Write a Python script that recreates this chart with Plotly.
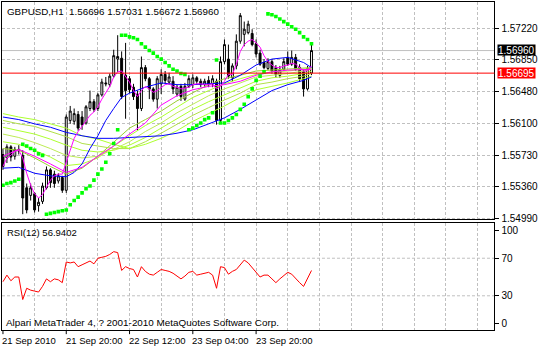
import plotly.graph_objects as go

W, H = 538, 351

# ---------------- data ----------------
bars = list(range(79))
opens = [1.5574,1.5570,1.5583,1.5572,1.5580,1.5573,1.5535,1.5526,1.5528,1.5514,
         1.5519,1.5535,1.5556,1.5551,1.5543,1.5547,1.5532,1.5614,1.5613,1.5621,
         1.5618,1.5611,1.5628,1.5636,1.5628,1.5644,1.5658,1.5656,1.5666,1.5686,
         1.5687,1.5667,1.5663,1.5653,1.5645,1.5628,1.5676,1.5663,1.5651,1.5639,
         1.5657,1.5668,1.5659,1.5660,1.5645,1.5654,1.5639,1.5654,1.5656,1.5664,
         1.5660,1.5656,1.5661,1.5657,1.5660,1.5614,1.5683,1.5686,1.5664,1.5678,
         1.5707,1.5715,1.5717,1.5716,1.5704,1.5693,1.5682,1.5675,1.5683,1.5676,
         1.5667,1.5674,1.5688,1.5680,1.5688,1.5676,1.5671,1.5651,1.56696]
highs = [1.5581,1.5586,1.5585,1.5583,1.5585,1.5579,1.5540,1.5540,1.5530,1.5523,
         1.5541,1.5560,1.5558,1.5555,1.5552,1.5549,1.5621,1.5631,1.5628,1.5625,
         1.5625,1.5632,1.5649,1.5639,1.5646,1.5663,1.5665,1.5669,1.5697,1.5714,
         1.5695,1.5705,1.5666,1.5657,1.5649,1.5689,1.5679,1.5665,1.5653,1.5666,
         1.5674,1.5672,1.5670,1.5666,1.5656,1.5657,1.5658,1.5667,1.5668,1.5666,
         1.5663,1.5663,1.5666,1.5667,1.5663,1.5689,1.5709,1.5703,1.5681,1.5715,
         1.5740,1.5730,1.5731,1.5721,1.5709,1.5697,1.5686,1.5687,1.5686,1.5679,
         1.5678,1.5687,1.5695,1.5696,1.5692,1.5680,1.5674,1.5678,1.57031]
lows = [1.5556,1.5564,1.5566,1.5568,1.5574,1.5504,1.5505,1.5520,1.5506,1.5507,
        1.5516,1.5533,1.5535,1.5535,1.5540,1.5529,1.5529,1.5610,1.5609,1.5602,
        1.5603,1.5609,1.5625,1.5624,1.5625,1.5642,1.5654,1.5653,1.5664,1.5671,
        1.5639,1.5616,1.5646,1.5638,1.5602,1.5625,1.5660,1.5639,1.5636,1.5628,
        1.5645,1.5657,1.5656,1.5645,1.5642,1.5637,1.5637,1.5652,1.5652,1.5657,
        1.5653,1.5653,1.5653,1.5653,1.5609,1.5611,1.5680,1.5663,1.5660,1.5674,
        1.5704,1.5701,1.5715,1.5701,1.5688,1.5678,1.5674,1.5673,1.5669,1.5664,
        1.5664,1.5672,1.5678,1.5678,1.5672,1.5659,1.5642,1.5649,1.56672]
closes = [1.5560,1.5583,1.5571,1.5580,1.5578,1.5523,1.5509,1.5535,1.5509,1.5518,
          1.5537,1.5556,1.5541,1.5540,1.5549,1.5532,1.5618,1.5625,1.5622,1.5605,
          1.5609,1.5630,1.5636,1.5627,1.5644,1.5659,1.5657,1.5666,1.5690,1.5689,
          1.5642,1.5649,1.5650,1.5642,1.5628,1.5676,1.5663,1.5651,1.5639,1.5663,
          1.5668,1.5661,1.5665,1.5651,1.5653,1.5642,1.5654,1.5663,1.5664,1.5660,
          1.5656,1.5660,1.5656,1.5663,1.5614,1.5683,1.5703,1.5666,1.5678,1.5707,
          1.5737,1.5721,1.5727,1.5703,1.5692,1.5680,1.5676,1.5683,1.5672,1.5668,
          1.5674,1.5683,1.5680,1.5688,1.5674,1.5663,1.5651,1.5675,1.56960]

ma_fast_magenta = [1.5560,1.5570,1.5573,1.5578,1.5579,1.5570,1.5552,1.5538,1.5528,1.5523,
                   1.5527,1.5535,1.5544,1.5549,1.5551,1.5551,1.5564,1.5579,1.5593,1.5601,
                   1.5607,1.5614,1.5620,1.5624,1.5630,1.5639,1.5647,1.5654,1.5665,1.5671,
                   1.5672,1.5666,1.5659,1.5649,1.5642,1.5649,1.5654,1.5651,1.5647,1.5649,
                   1.5653,1.5656,1.5657,1.5654,1.5653,1.5651,1.5652,1.5653,1.5656,1.5657,
                   1.5657,1.5656,1.5656,1.5657,1.5651,1.5654,1.5660,1.5668,1.5668,1.5680,
                   1.5695,1.5703,1.5707,1.5709,1.5705,1.5700,1.5690,1.5683,1.5679,1.5676,
                   1.5676,1.5678,1.5679,1.5681,1.5680,1.5676,1.5672,1.5672,1.5678]

sar = [1.5538,1.5540,1.5541,1.5543,1.5545,1.5586,1.5584,1.5581,1.5579,1.5575,
       1.5573,1.5504,1.5505,1.5506,1.5507,1.5508,1.5509,1.5515,1.5520,1.5524,
       1.5529,1.5534,1.5537,1.5544,1.5551,1.5557,1.5565,1.5575,1.5587,1.5603,
       1.5714,1.5714,1.5712,1.5711,1.5709,1.5704,1.5700,1.5696,1.5693,1.5689,
       1.5686,1.5682,1.5678,1.5674,1.5672,1.5669,1.5668,1.5603,1.5605,1.5608,
       1.5611,1.5615,1.5617,1.5623,1.5685,1.5611,1.5611,1.5614,1.5617,1.5621,
       1.5627,1.5633,1.5642,1.5651,1.5661,1.5666,1.5671,1.5739,1.5738,1.5736,
       1.5733,1.5730,1.5727,1.5724,1.5721,1.5717,1.5712,1.5709,1.5704]

line_bars = [0,4,8,12,16,20,24,28,32,36,40,44,48,52,56,60,64,68,72,76,78]
fan1 = [1.5581,1.5579,1.5570,1.5560,1.5551,1.5558,1.5572,1.5589,1.5605,1.5615,1.5625,
        1.5637,1.5647,1.5656,1.5663,1.5667,1.5672,1.5673,1.5674,1.5675,1.5676]
fan2 = [1.5589,1.5586,1.5579,1.5571,1.5561,1.5563,1.5570,1.5584,1.5596,1.5608,1.5618,
        1.5630,1.5641,1.5649,1.5657,1.5663,1.5668,1.5671,1.5672,1.5674,1.5675]
fan3 = [1.5598,1.5594,1.5588,1.5581,1.5573,1.5570,1.5572,1.5580,1.5589,1.5601,1.5611,
        1.5623,1.5633,1.5643,1.5651,1.5658,1.5665,1.5667,1.5669,1.5672,1.5674]
fan4 = [1.5606,1.5602,1.5598,1.5592,1.5585,1.5579,1.5577,1.5579,1.5585,1.5594,1.5605,
        1.5616,1.5627,1.5636,1.5644,1.5652,1.5660,1.5664,1.5666,1.5669,1.5672]
fan5 = [1.5614,1.5610,1.5607,1.5601,1.5595,1.5587,1.5584,1.5581,1.5581,1.5589,1.5599,
        1.5609,1.5620,1.5629,1.5638,1.5646,1.5656,1.5659,1.5663,1.5666,1.5669]
fan6 = [1.5622,1.5618,1.5615,1.5610,1.5605,1.5596,1.5592,1.5586,1.5581,1.5586,1.5593,
        1.5602,1.5613,1.5622,1.5631,1.5641,1.5650,1.5654,1.5658,1.5663,1.5666]
ma_slow_blue = [1.5618,1.5615,1.5610,1.5606,1.5600,1.5596,1.5593,1.5593,1.5594,1.5595,1.5596,
                1.5599,1.5603,1.5610,1.5617,1.5627,1.5638,1.5649,1.5656,1.5661,1.5665]
ma_mid_magenta = [1.5572,1.5580,1.5572,1.5563,1.5553,1.5559,1.5572,1.5584,1.5598,1.5611,1.5632,
                  1.5643,1.5650,1.5654,1.5656,1.5660,1.5667,1.5671,1.5673,1.5674,1.5674]

blue_bars = [0,4,8,12,16,18,20,22,24,26,28,30,32,36,40,44,48,52,56,60,64,68,72,76,78]
ma_fast_blue = [1.5558,1.5559,1.5552,1.5549,1.5548,1.5553,1.5563,1.5581,1.5596,1.5614,1.5628,
                1.5641,1.5646,1.5653,1.5658,1.5656,1.5656,1.5657,1.5658,1.5667,1.5679,1.5686,
                1.5688,1.5682,1.5676]

rsi = [45,52,46,50,50,26,38,36,35,34,40,48,45,48,47,44,66,65,66,61,
       63,65,67,64,70,71,72,74,77,76,57,61,59,58,50,61,56,53,52,55,
       58,57,56,54,51,48,51,55,56,52,53,54,55,52,38,61,60,53,56,58,
       63,68,65,60,55,50,52,52,48,44,48,52,55,53,48,44,40,48,56.94]

price_ticks = [1.57220, 1.56850, 1.56480, 1.56100, 1.55730, 1.55360, 1.54990]
rsi_ticks = [0, 30, 70, 100]
rsi_levels = [30, 70]
bid_price = 1.56960
line_price = 1.56695
time_bars = [0, 16, 32, 48, 64]
time_labels = ["21 Sep 2010", "21 Sep 20:00", "22 Sep 12:00", "23 Sep 04:00", "23 Sep 20:00"]
title_text = "GBPUSD,H1  1.56696 1.57031 1.56672 1.56960"
rsi_text = "RSI(12) 56.9402"
copyright_text = "Alpari MetaTrader 4, ? 2001-2010 MetaQuotes Software Corp."

# ---------------- layout helpers ----------------
def fx(p):
    return p / W

def fy(p):
    return 1 - p / H

FONT = "Liberation Sans, Arial, sans-serif"
GRID = "#C0C0C0"

fig = go.Figure()

fig.add_trace(go.Candlestick(
    x=bars, open=opens, high=highs, low=lows, close=closes,
    increasing=dict(line=dict(color="black", width=1), fillcolor="white"),
    decreasing=dict(line=dict(color="black", width=1), fillcolor="black"),
    whiskerwidth=0, xaxis="x", yaxis="y", showlegend=False, hoverinfo="skip"))

fan_colors = ["#9ACD32", "#ADFF2F", "#BDEB55", "#ADFF2F", "#B0E048", "#ADFF2F"]
for vals, col in zip([fan1, fan2, fan3, fan4, fan5, fan6], fan_colors):
    fig.add_trace(go.Scatter(x=line_bars, y=vals, mode="lines",
                             line=dict(color=col, width=1), xaxis="x", yaxis="y",
                             showlegend=False, hoverinfo="skip"))

fig.add_trace(go.Scatter(x=line_bars, y=ma_slow_blue, mode="lines",
                         line=dict(color="#0000FF", width=1), showlegend=False, hoverinfo="skip"))
fig.add_trace(go.Scatter(x=blue_bars, y=ma_fast_blue, mode="lines",
                         line=dict(color="#0000FF", width=1), showlegend=False, hoverinfo="skip"))
fig.add_trace(go.Scatter(x=line_bars, y=ma_mid_magenta, mode="lines",
                         line=dict(color="#FF00FF", width=1), showlegend=False, hoverinfo="skip"))
fig.add_trace(go.Scatter(x=bars, y=ma_fast_magenta, mode="lines",
                         line=dict(color="#FF00FF", width=1), showlegend=False, hoverinfo="skip"))
fig.add_trace(go.Scatter(x=bars, y=sar, mode="markers",
                         marker=dict(symbol="square", size=3.6, color="#00FF00", line=dict(width=0)),
                         showlegend=False, hoverinfo="skip"))

fig.add_trace(go.Scatter(x=bars, y=rsi, mode="lines", line=dict(color="#FF0000", width=1),
                         xaxis="x2", yaxis="y2", showlegend=False, hoverinfo="skip"))

x_dom = [fx(2), fx(500)]
x_range = [-0.25, 124.25]
grid_vals = list(range(8, 125, 8))

axis_common = dict(showline=True, linecolor="black", linewidth=1, mirror=True, zeroline=False)

fig.update_layout(
    width=W, height=H, margin=dict(l=0, r=0, t=0, b=0),
    paper_bgcolor="white", plot_bgcolor="white",
    font=dict(family=FONT, size=10, color="black"),
    showlegend=False,
    xaxis=dict(domain=x_dom, range=x_range, anchor="y", tickvals=grid_vals,
               showticklabels=False, ticks="", showgrid=True, gridcolor=GRID,
               griddash="3px,2px", gridwidth=1, rangeslider=dict(visible=False),
               **axis_common),
    yaxis=dict(domain=[fy(222), fy(2)], range=[1.54978, 1.57530], anchor="x", side="right",
               tickvals=price_ticks, tickformat=".5f", ticks="outside", ticklen=4,
               tickcolor="black", showgrid=True, gridcolor=GRID, griddash="3px,2px",
               tickfont=dict(size=10), **axis_common),
    xaxis2=dict(domain=x_dom, range=x_range, anchor="y2", matches="x", tickvals=grid_vals,
                showticklabels=False, ticks="", showgrid=True, gridcolor=GRID,
                griddash="3px,2px", **axis_common),
    yaxis2=dict(domain=[fy(334), fy(226)], range=[-6.63, 107.05], anchor="x2", side="right",
                tickvals=rsi_ticks, ticks="outside", ticklen=4, tickcolor="black",
                showgrid=False, tickfont=dict(size=10), **axis_common),
)

shapes = []
for lv in rsi_levels:
    shapes.append(dict(type="line", xref="paper", x0=x_dom[0], x1=x_dom[1], yref="y2",
                       y0=lv, y1=lv, line=dict(color=GRID, width=1, dash="3px,2px"),
                       layer="below"))
shapes.append(dict(type="line", xref="paper", x0=x_dom[0], x1=x_dom[1], yref="y",
                   y0=bid_price, y1=bid_price, line=dict(color="#C0C0C0", width=1),
                   layer="below"))
shapes.append(dict(type="line", xref="paper", x0=x_dom[0], x1=x_dom[1], yref="y",
                   y0=line_price, y1=line_price, line=dict(color="#FF0000", width=1)))
for tb in time_bars:
    shapes.append(dict(type="line", xref="x2", x0=tb, x1=tb, yref="paper",
                       y0=fy(334), y1=fy(338), line=dict(color="black", width=1)))
fig.update_layout(shapes=shapes)

ann = []
ann.append(dict(text=title_text, xref="paper", yref="paper", x=fx(5), y=fy(11.5),
                xanchor="left", yanchor="middle", showarrow=False, font=dict(size=9.8)))
ann.append(dict(text=rsi_text, xref="paper", yref="paper", x=fx(5), y=fy(235.5),
                xanchor="left", yanchor="middle", showarrow=False, font=dict(size=9.5)))
ann.append(dict(text=copyright_text, xref="paper", yref="paper", x=fx(4.5), y=fy(326),
                xanchor="left", yanchor="middle", showarrow=False, font=dict(size=9.9)))
for tb, lab in zip(time_bars, time_labels):
    ann.append(dict(text=lab, xref="x2", yref="paper", x=tb, y=fy(344), xanchor="left",
                    xshift=-2.5, yanchor="middle", showarrow=False, font=dict(size=9.5)))
ann.append(dict(text=f"{bid_price:.5f}", xref="paper", yref="y", x=fx(503), y=bid_price,
                xanchor="left", yanchor="middle", showarrow=False, bgcolor="black",
                font=dict(size=10, color="white"), borderpad=0, height=10, yshift=1))
ann.append(dict(text=f"{line_price:.5f}", xref="paper", yref="y", x=fx(503), y=line_price,
                xanchor="left", yanchor="middle", showarrow=False, bgcolor="#FF0000",
                font=dict(size=10, color="white"), borderpad=0, height=10))
fig.update_layout(annotations=ann)

fig.write_html("out.html")
